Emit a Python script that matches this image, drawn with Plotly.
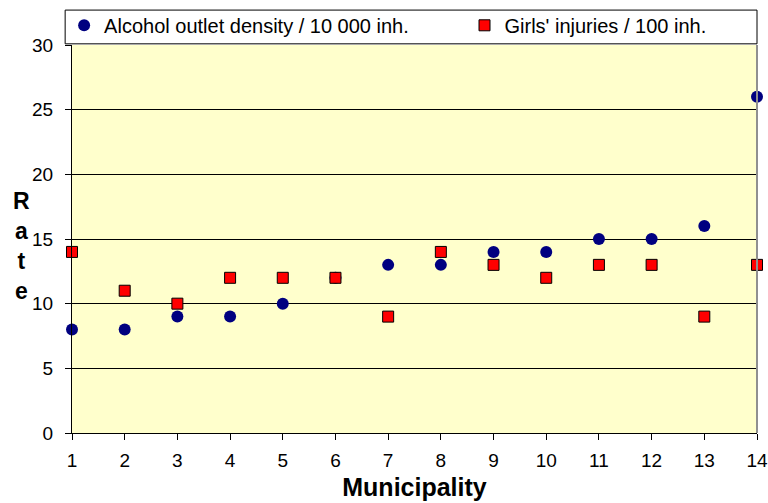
import plotly.graph_objects as go

municipality = list(range(1, 15))
alcohol_density = [8, 8, 9, 9, 10, 12, 13, 13, 14, 14, 15, 15, 16, 26]
girls_injuries = [14, 11, 10, 12, 12, 12, 9, 14, 13, 12, 13, 13, 9, 13]
x_ticks = list(range(1, 15))
y_ticks = [0, 5, 10, 15, 20, 25, 30]

FONT = "Liberation Sans, Arial, sans-serif"

fig = go.Figure()
fig.add_trace(go.Scatter(
    x=municipality, y=alcohol_density, mode="markers",
    name="Alcohol outlet density / 10 000 inh.",
    marker=dict(symbol="circle", size=12, color="#000080", line=dict(width=0)),
    cliponaxis=False, legend="legend",
))
fig.add_trace(go.Scatter(
    x=municipality, y=girls_injuries, mode="markers",
    name="Girls' injuries / 100 inh.",
    marker=dict(symbol="square", size=11, color="#FF0000", line=dict(width=1, color="#000000")),
    cliponaxis=False, legend="legend2",
))

# legend box
fig.add_shape(type="rect", xref="paper", yref="paper", x0=-0.01, x1=1.0, y0=1.003, y1=1.09,
              fillcolor="white", line=dict(color="black", width=1), layer="above")

leg_common = dict(
    orientation="h", y=1.101, yanchor="top",
    bgcolor="rgba(0,0,0,0)", borderwidth=0,
    font=dict(size=20, family=FONT), itemclick=False, itemdoubleclick=False,
)

fig.update_layout(
    width=768, height=503,
    margin=dict(l=72, r=11, t=45, b=70, autoexpand=False),
    paper_bgcolor="white",
    plot_bgcolor="#FFFFCC",
    font=dict(family=FONT, size=19, color="black"),
    showlegend=True,
    legend=dict(x=-0.0115, xanchor="left", **leg_common),
    legend2=dict(x=0.573, xanchor="left", **leg_common),
    xaxis=dict(
        range=[1, 14], tickvals=x_ticks, ticktext=[str(v) for v in x_ticks],
        showgrid=False, zeroline=False, automargin=False,
        showline=True, linecolor="black", linewidth=1, mirror=False,
        ticks="outside", ticklen=6, tickcolor="black",
        ticklabelstandoff=4,
        tickfont=dict(size=19),
        title=dict(text="<b>Municipality</b>", font=dict(size=25), standoff=8),
    ),
    yaxis=dict(
        range=[0, 30], tickvals=y_ticks, automargin=False,
        showgrid=True, gridcolor="black", gridwidth=1, zeroline=False,
        showline=True, linecolor="black", linewidth=1,
        ticks="outside", ticklen=6, tickcolor="black",
        ticklabelstandoff=8,
        tickfont=dict(size=19),
    ),
)

# right border in gray
fig.add_shape(type="line", xref="paper", yref="paper", x0=1, x1=1, y0=0, y1=1,
              line=dict(color="#909090", width=2))

fig.add_annotation(
    text="<b>R<br>a<br>t<br>e</b>", xref="paper", yref="paper",
    x=-0.074, y=0.483, xanchor="center", yanchor="middle", showarrow=False,
    font=dict(size=23, family=FONT), align="center",
)

fig.write_html("out.html", config={"displayModeBar": False},
               post_script="document.body.style.margin='0';document.body.style.padding='0';")
